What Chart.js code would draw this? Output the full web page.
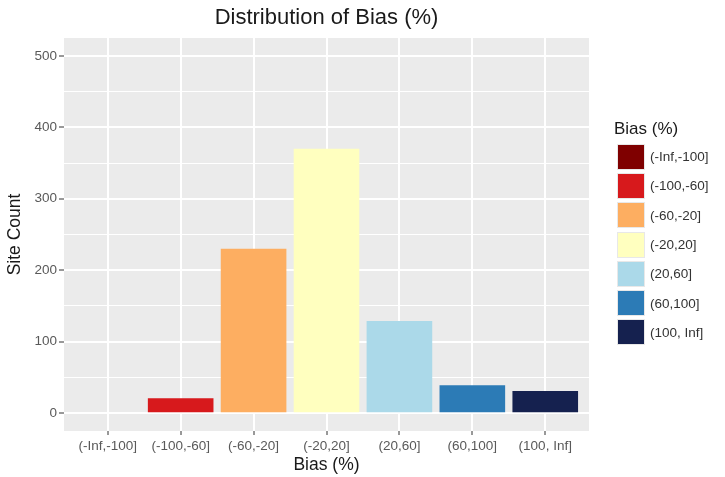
<!DOCTYPE html>
<html>
<head>
<meta charset="utf-8">
<script src="https://cdn.jsdelivr.net/npm/chart.js@4/dist/chart.umd.min.js"></script>
<style>
  html, body { margin: 0; padding: 0; background: #ffffff; }
  #wrap { position: relative; width: 725px; height: 477px; font-family: "Liberation Sans", Arial, sans-serif; }
  #c { position: absolute; left: 0; top: 0; }
  #title { position: absolute; top: 4px; left: 64px; width: 525px; text-align: center; font-size: 22px; color: #1a1a1a; }
  #legend { position: absolute; left: 613px; top: 119px; color: #1a1a1a; }
  #legend .lt { font-size: 17px; margin-left: 1px; margin-bottom: 3px; }
  #legend .row { display: flex; align-items: center; height: 29.3px; }
  #legend .sw { width: 28px; height: 26px; margin-left: 4px; margin-right: 5px; box-sizing: border-box; border: 1px solid #e8e8e8; }
  #legend .lb { font-size: 13.5px; color: #333; }
</style>
</head>
<body>
<div id="wrap">
  <canvas id="c" width="725" height="477"></canvas>
  <div id="title">Distribution of Bias (%)</div>
  <div id="legend"></div>
</div>
<script>
const categories = ["(-Inf,-100]", "(-100,-60]", "(-60,-20]", "(-20,20]", "(20,60]", "(60,100]", "(100, Inf]"];
const siteCounts = [0, 21, 230, 370, 129, 39, 31];
const barColors = ["#7f0000", "#d7191c", "#fdae61", "#ffffbf", "#abd9e9", "#2c7bb6", "#15214f"];
const yTickValues = [0, 50, 100, 150, 200, 250, 300, 350, 400, 450, 500];
const legendTitle = "Bias (%)";

// HTML legend
const lg = document.getElementById('legend');
const t = document.createElement('div'); t.className = 'lt'; t.textContent = legendTitle; lg.appendChild(t);
categories.forEach((c, i) => {
  const r = document.createElement('div'); r.className = 'row';
  const s = document.createElement('div'); s.className = 'sw'; s.style.background = barColors[i];
  const l = document.createElement('div'); l.className = 'lb'; l.textContent = c;
  r.appendChild(s); r.appendChild(l); lg.appendChild(r);
});

const panelBg = {
  id: 'panelBg',
  beforeDraw(chart) {
    const {ctx, chartArea: a} = chart;
    ctx.save();
    ctx.fillStyle = '#ebebeb';
    ctx.fillRect(a.left, a.top, a.right - a.left, a.bottom - a.top);
    ctx.restore();
  }
};

const isMajor = v => v % 100 === 0;

new Chart(document.getElementById('c'), {
  type: 'bar',
  data: {
    datasets: [{
      data: siteCounts.map((v, i) => ({x: i, y: v})),
      backgroundColor: barColors,
      borderWidth: 0,
      barPercentage: 0.9,
      categoryPercentage: 1.0
    }]
  },
  options: {
    responsive: false,
    animation: false,
    layout: { padding: { top: 38, right: 136, left: 0, bottom: 0 } },
    plugins: { legend: { display: false }, title: { display: false }, tooltip: { enabled: false } },
    scales: {
      x: {
        type: 'linear',
        min: -0.6, max: 6.6,
        offset: false,
        afterBuildTicks: axis => { axis.ticks = categories.map((c, i) => ({value: i})); },
        afterFit: scale => { scale.height = 46; },
        border: { display: false },
        grid: { color: '#ffffff', lineWidth: 2, offset: false, drawTicks: true, tickLength: 4, tickColor: '#333333', tickWidth: 1 },
        ticks: {
          autoSkip: false, maxRotation: 0, padding: 3,
          color: '#595959',
          font: { family: '"Liberation Sans", Arial, sans-serif', size: 13.5 },
          callback: v => categories[v] !== undefined ? categories[v] : ''
        },
        title: { display: true, text: 'Bias (%)', color: '#1a1a1a', padding: { top: 0, bottom: 1 },
                 font: { family: '"Liberation Sans", Arial, sans-serif', size: 17.5 } }
      },
      y: {
        min: -25, max: 525,
        afterBuildTicks: axis => { axis.ticks = yTickValues.map(v => ({value: v})); },
        afterFit: scale => { scale.width = 64; },
        border: { display: false },
        grid: {
          color: '#ffffff',
          lineWidth: ctx => (ctx.tick && isMajor(ctx.tick.value)) ? 2 : 1,
          drawTicks: true, tickLength: 5,
          tickColor: ctx => (ctx.tick && isMajor(ctx.tick.value)) ? '#333333' : 'rgba(0,0,0,0)',
          tickWidth: 1
        },
        ticks: {
          padding: 2,
          color: '#595959',
          font: { family: '"Liberation Sans", Arial, sans-serif', size: 13.5 },
          callback: v => isMajor(v) ? String(v) : ''
        },
        title: { display: true, text: 'Site Count', color: '#1a1a1a', padding: { top: 5, bottom: 0 },
                 font: { family: '"Liberation Sans", Arial, sans-serif', size: 17.5 } }
      }
    }
  },
  plugins: [panelBg]
});
</script>
</body>
</html>
